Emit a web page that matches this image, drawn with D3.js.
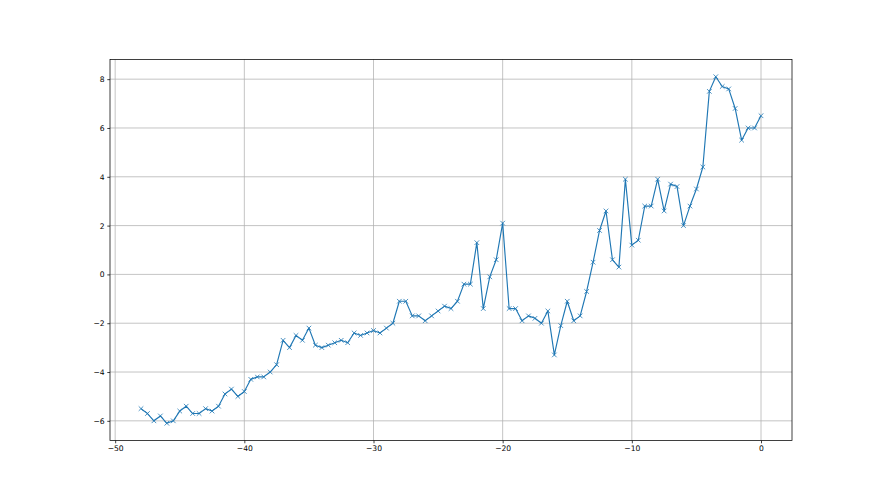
<!DOCTYPE html>
<html>
<head>
<meta charset="utf-8">
<script src="https://cdn.jsdelivr.net/npm/d3@7"></script>
<style>
  body { margin: 0; background: #fff; }
  svg { display: block; }
  .tick text { font-family: "DejaVu Sans", sans-serif; font-size: 7.6px; fill: #000; }
</style>
</head>
<body>
<div id="chart"></div>
<script>
// data
var xs = [-48, -47.5, -47, -46.5, -46, -45.5, -45, -44.5, -44, -43.5, -43, -42.5, -42, -41.5, -41, -40.5,
          -40, -39.5, -39, -38.5, -38, -37.5, -37, -36.5, -36, -35.5, -35, -34.5, -34, -33.5, -33, -32.5,
          -32, -31.5, -31, -30.5, -30, -29.5, -29, -28.5, -28, -27.5, -27, -26.5, -26, -25.5, -25, -24.5,
          -24, -23.5, -23, -22.5, -22, -21.5, -21, -20.5, -20, -19.5, -19, -18.5, -18, -17.5, -17, -16.5,
          -16, -15.5, -15, -14.5, -14, -13.5, -13, -12.5, -12, -11.5, -11, -10.5, -10, -9.5, -9, -8.5,
          -8, -7.5, -7, -6.5, -6, -5.5, -5, -4.5, -4, -3.5, -3, -2.5, -2, -1.5, -1, -0.5, 0];
var ys = [-5.5, -5.7, -6.0, -5.8, -6.1, -6.0, -5.6, -5.4, -5.7, -5.7, -5.5, -5.6, -5.4, -4.9, -4.7, -5.0,
          -4.8, -4.3, -4.2, -4.2, -4.0, -3.7, -2.7, -3.0, -2.5, -2.7, -2.2, -2.9, -3.0, -2.9, -2.8, -2.7,
          -2.8, -2.4, -2.5, -2.4, -2.3, -2.4, -2.2, -2.0, -1.1, -1.1, -1.7, -1.7, -1.9, -1.7, -1.5, -1.3,
          -1.4, -1.1, -0.4, -0.4, 1.3, -1.4, -0.1, 0.6, 2.1, -1.4, -1.4, -1.9, -1.7, -1.8, -2.0, -1.5,
          -3.3, -2.1, -1.1, -1.9, -1.7, -0.7, 0.5, 1.8, 2.6, 0.6, 0.3, 3.9, 1.2, 1.4, 2.8, 2.8,
          3.9, 2.6, 3.7, 3.6, 2.0, 2.8, 3.5, 4.4, 7.5, 8.1, 7.7, 7.6, 6.8, 5.5, 6.0, 6.0, 6.5];
var xTicks = [-50, -40, -30, -20, -10, 0];
var yTicks = [-6, -4, -2, 0, 2, 4, 6, 8];

function render_chart() {
    var width = 880, height = 495;
    var left = 110, right = 792, top = 59.4, bottom = 440.6;
    var minus = function (v) { return String(v).replace("-", "\u2212"); };

    var pts = xs.map(function (x, i) { return {x: x, y: ys[i]}; });

    // matplotlib style 5% margins
    var xPad = (d3.max(xs) - d3.min(xs)) * 0.05,
        yPad = (d3.max(ys) - d3.min(ys)) * 0.05;

    var x = d3.scaleLinear()
        .domain([d3.min(xs) - xPad, d3.max(xs) + xPad])
        .range([left, right]);
    var y = d3.scaleLinear()
        .domain([d3.min(ys) - yPad, d3.max(ys) + yPad])
        .range([bottom, top]);

    var svg = d3.select("#chart").append("svg")
        .attr("width", width)
        .attr("height", height);

    // grid
    svg.append("g")
        .selectAll("line")
        .data(xTicks)
        .enter().append("line")
        .attr("x1", function (d) { return x(d); })
        .attr("x2", function (d) { return x(d); })
        .attr("y1", top)
        .attr("y2", bottom)
        .style("stroke", "#b0b0b0")
        .style("stroke-width", 0.75);

    svg.append("g")
        .selectAll("line")
        .data(yTicks)
        .enter().append("line")
        .attr("x1", left)
        .attr("x2", right)
        .attr("y1", function (d) { return y(d); })
        .attr("y2", function (d) { return y(d); })
        .style("stroke", "#b0b0b0")
        .style("stroke-width", 0.75);

    // series
    var line = d3.line()
        .x(function (d) { return x(d.x); })
        .y(function (d) { return y(d.y); });

    svg.append("path")
        .datum(pts)
        .attr("d", line)
        .style("fill", "none")
        .style("stroke", "#1f77b4")
        .style("stroke-width", 1.15)
        .style("stroke-linejoin", "round");

    var r = 2.3;
    svg.append("g")
        .selectAll("path")
        .data(pts)
        .enter().append("path")
        .attr("transform", function (d) { return "translate(" + x(d.x) + "," + y(d.y) + ")"; })
        .attr("d", "M" + (-r) + "," + (-r) + "L" + r + "," + r + "M" + (-r) + "," + r + "L" + r + "," + (-r))
        .style("stroke", "#1f77b4")
        .style("stroke-width", 0.8)
        .style("fill", "none");

    // spines
    svg.append("rect")
        .attr("x", left)
        .attr("y", top)
        .attr("width", right - left)
        .attr("height", bottom - top)
        .style("fill", "none")
        .style("stroke", "#000")
        .style("stroke-width", 0.75);

    // axes
    var xAxis = svg.append("g")
        .attr("transform", "translate(0," + bottom + ")")
        .call(d3.axisBottom(x).tickValues(xTicks).tickFormat(minus).tickSize(2.7).tickPadding(2.7));
    var yAxis = svg.append("g")
        .attr("transform", "translate(" + left + ",0)")
        .call(d3.axisLeft(y).tickValues(yTicks).tickFormat(minus).tickSize(2.7).tickPadding(2.7));

    [xAxis, yAxis].forEach(function (g) {
        g.select(".domain").remove();
        g.selectAll(".tick line").style("stroke", "#000").style("stroke-width", 0.75);
    });
}

render_chart();
</script>
</body>
</html>
